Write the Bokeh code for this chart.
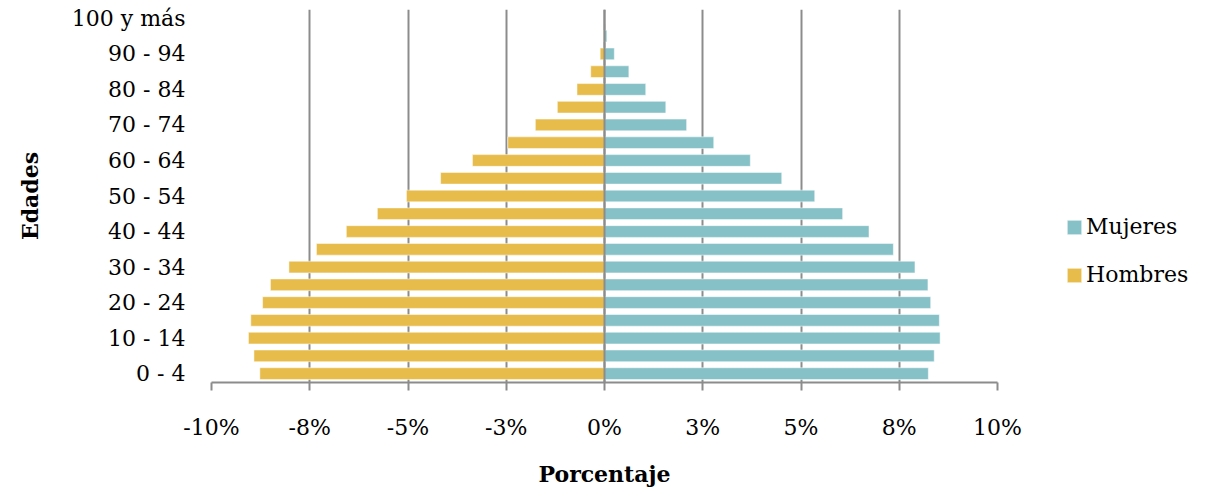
from bokeh.plotting import figure
from bokeh.models import Range1d, FixedTicker, Legend, LegendItem, Span, ColumnDataSource
from bokeh.embed import file_html
from bokeh.resources import INLINE

ages = ["0 - 4", "5 - 9", "10 - 14", "15 - 19", "20 - 24", "25 - 29", "30 - 34",
        "35 - 39", "40 - 44", "45 - 49", "50 - 54", "55 - 59", "60 - 64", "65 - 69",
        "70 - 74", "75 - 79", "80 - 84", "85 - 89", "90 - 94", "95 - 99", "100 y más"]
mujeres = [8.24, 8.39, 8.54, 8.52, 8.30, 8.23, 7.90, 7.35, 6.73, 6.06, 5.35,
           4.51, 3.71, 2.78, 2.09, 1.56, 1.05, 0.62, 0.25, 0.06, 0.01]
hombres = [8.77, 8.92, 9.06, 9.00, 8.70, 8.50, 8.03, 7.33, 6.57, 5.78, 5.04,
           4.17, 3.36, 2.46, 1.76, 1.20, 0.70, 0.35, 0.11, 0.02, 0.005]
x_tick_values = [-10, -7.5, -5, -2.5, 0, 2.5, 5, 7.5, 10]
x_tick_labels = ["-10%", "-8%", "-5%", "-3%", "0%", "3%", "5%", "8%", "10%"]
shown_age_idx = list(range(0, 21, 2))

FONT = "DejaVu Serif"
TEAL = "#85C1C7"
GOLD = "#E8BC4A"
GRID = "#8C8C8C"

src = ColumnDataSource(dict(
    y=list(range(len(ages))),
    age=ages,
    muj=mujeres,
    hom=[-v for v in hombres],
))

p = figure(output_backend="svg", toolbar_location=None,
           x_range=Range1d(-10, 10), y_range=Range1d(-0.5, 20.5),
           frame_width=786, frame_height=373,
           min_border_left=211, min_border_right=205, min_border_top=9, min_border_bottom=10)
p.outline_line_color = None
p.background_fill_color = "white"

r_m = p.hbar(y="y", left=0, right="muj", height=0.66, source=src,
             fill_color=TEAL, line_color="white", line_alpha=0.5, line_width=1)
r_h = p.hbar(y="y", left="hom", right=0, height=0.66, source=src,
             fill_color=GOLD, line_color="white", line_alpha=0.5, line_width=1)

p.add_layout(Span(location=0, dimension="height", line_color=GRID, line_width=2))

# x axis
xa = p.xaxis[0]
xa.ticker = FixedTicker(ticks=x_tick_values)
xa.major_label_overrides = {v: l for v, l in zip(x_tick_values, x_tick_labels)}
xa.axis_line_color = GRID
xa.axis_line_width = 2
xa.major_tick_line_color = GRID
xa.major_tick_line_width = 2
xa.major_tick_out = 8
xa.major_tick_in = 0
xa.minor_tick_line_color = None
xa.major_label_text_font = FONT
xa.major_label_text_font_size = "22px"
xa.major_label_text_color = "black"
xa.major_label_standoff = 24
xa.axis_label = "Porcentaje"
xa.axis_label_text_font = FONT
xa.axis_label_text_font_size = "22px"
xa.axis_label_text_font_style = "bold"
xa.axis_label_text_color = "black"
xa.axis_label_standoff = 18

# y axis
ya = p.yaxis[0]
ya.ticker = FixedTicker(ticks=shown_age_idx)
ya.major_label_overrides = {i: ages[i] for i in shown_age_idx}
ya.axis_line_color = None
ya.major_tick_line_color = None
ya.minor_tick_line_color = None
ya.major_tick_out = 0
ya.major_tick_in = 0
ya.major_label_text_font = FONT
ya.major_label_text_font_size = "22px"
ya.major_label_text_color = "black"
ya.major_label_standoff = 26
ya.axis_label = "Edades"
ya.axis_label_text_font = FONT
ya.axis_label_text_font_size = "22px"
ya.axis_label_text_font_style = "bold"
ya.axis_label_text_color = "black"
ya.axis_label_standoff = 26

p.xgrid.ticker = FixedTicker(ticks=x_tick_values)
p.xgrid.grid_line_color = GRID
p.xgrid.grid_line_width = 2
p.ygrid.grid_line_color = None

legend = Legend(items=[LegendItem(label="Mujeres", renderers=[r_m]),
                       LegendItem(label="Hombres", renderers=[r_h])],
                location=(68, 95), orientation="vertical",
                glyph_width=18, glyph_height=18, label_height=24, spacing=23,
                padding=0, margin=0, label_standoff=3,
                label_text_font=FONT, label_text_font_size="22px",
                label_text_color="black",
                border_line_color=None, background_fill_alpha=0)
p.add_layout(legend, "right")

open("out.html", "w").write(file_html(p, INLINE))
